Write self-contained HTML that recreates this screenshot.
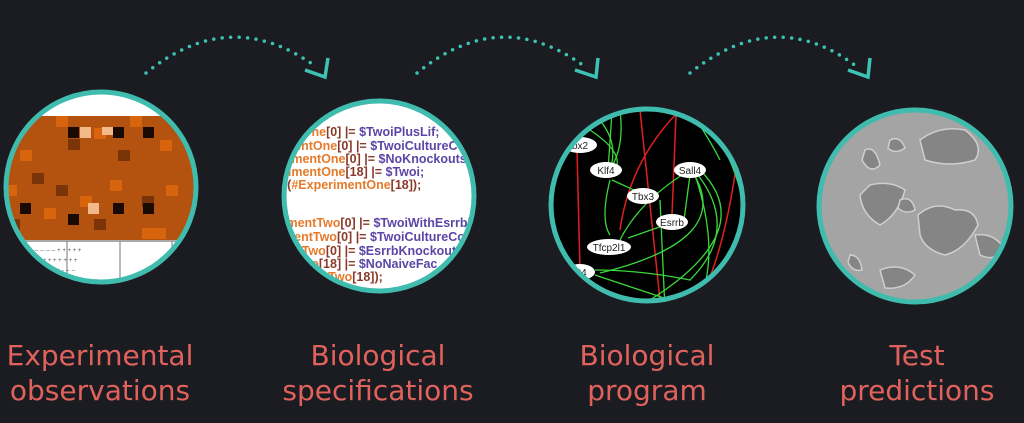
<!DOCTYPE html>
<html><head><meta charset="utf-8"><style>
html,body{margin:0;padding:0;background:#1b1c21;}
svg{display:block}
text{font-family:"Liberation Sans",sans-serif}
.lbl{font-family:"DejaVu Sans","Liberation Sans",sans-serif;font-size:28px;fill:#e0625c;text-anchor:middle}
</style></head><body>
<svg width="1024" height="423" viewBox="0 0 1024 423" xmlns="http://www.w3.org/2000/svg">
<rect width="1024" height="423" fill="#1b1c21"/>
<defs>
<clipPath id="c1"><circle cx="101" cy="187" r="95"/></clipPath>
<clipPath id="c2"><circle cx="379" cy="196" r="95"/></clipPath>
<clipPath id="c3"><circle cx="647" cy="205" r="96"/></clipPath>
<clipPath id="c4"><circle cx="915" cy="206" r="96"/></clipPath>
</defs>
<g fill="none" stroke="#3cc3b3" stroke-width="3.5" stroke-linecap="round">
<path d="M146 73 Q230 5 315 66" stroke-dasharray="0 8.5"/>
<path d="M417 73 Q500 5 584 66" stroke-dasharray="0 8.5"/>
<path d="M690 73 Q775 5 856 66" stroke-dasharray="0 8.5"/>
<polyline points="305,70 325,77 328,58" stroke-linecap="butt" stroke-width="3.5"/>
<polyline points="575,70 596,77 598,58" stroke-linecap="butt" stroke-width="3.5"/>
<polyline points="848,70 868,77 870,58" stroke-linecap="butt" stroke-width="3.5"/>
</g>
<g clip-path="url(#c1)">
<rect x="0" y="90" width="200" height="200" fill="#fff"/>
<rect x="0" y="116" width="200" height="124" fill="#b4520f"/>
<g fill="#d8650e">
<rect x="56" y="116" width="12" height="11"/><rect x="94" y="128" width="12" height="11"/><rect x="130" y="116" width="12" height="11"/><rect x="20" y="150" width="12" height="11"/><rect x="160" y="140" width="12" height="11"/><rect x="110" y="180" width="12" height="11"/><rect x="44" y="208" width="12" height="11"/><rect x="142" y="228" width="24" height="11"/><rect x="80" y="196" width="12" height="11"/><rect x="5" y="185" width="12" height="11"/><rect x="166" y="185" width="12" height="11"/>
</g>
<g fill="#7a3408">
<rect x="68" y="139" width="12" height="11"/><rect x="118" y="150" width="12" height="11"/><rect x="32" y="173" width="12" height="11"/><rect x="142" y="196" width="12" height="11"/><rect x="94" y="219" width="12" height="11"/><rect x="180" y="128" width="12" height="11"/><rect x="8" y="219" width="12" height="11"/><rect x="56" y="185" width="12" height="11"/>
</g>
<g fill="#1a0a02">
<rect x="68" y="127" width="11" height="11"/><rect x="113" y="127" width="11" height="11"/><rect x="20" y="203" width="11" height="11"/><rect x="113" y="203" width="11" height="11"/><rect x="143" y="203" width="11" height="11"/><rect x="68" y="214" width="11" height="11"/><rect x="143" y="127" width="11" height="11"/>
</g>
<g fill="#f3b98a"><rect x="80" y="127" width="11" height="11"/><rect x="88" y="203" width="11" height="11"/><rect x="102" y="127" width="11" height="8"/></g>
<line x1="0" y1="241" x2="200" y2="241" stroke="#555" stroke-width="1"/>
<line x1="67" y1="241" x2="67" y2="290" stroke="#777"/><line x1="120" y1="241" x2="120" y2="290" stroke="#777"/><line x1="172" y1="241" x2="172" y2="290" stroke="#777"/>
<text x="5" y="252" font-size="6" fill="#555">+ + + + +   - -- -- -- --   + + + + +</text>
<text x="5" y="262" font-size="6" fill="#555">-- -- --   + + + + + +   + + + + +</text>
<text x="5" y="272" font-size="6" fill="#555">+ + + + +   + + + + + +   - -- --</text>
</g>
<circle cx="101" cy="187" r="95" fill="none" stroke="#3fbcae" stroke-width="5"/>
<g clip-path="url(#c2)">
<rect x="280" y="95" width="200" height="210" fill="#fff"/>
<g font-size="12.5" font-weight="600" font-family="Liberation Sans,sans-serif">
<text x="283" y="136"><tspan fill="#e57a2a">entOne</tspan><tspan fill="#8a3a2a">[0] |=  </tspan><tspan fill="#5b46a6">$TwoiPlusLif;</tspan></text>
<text x="283" y="150"><tspan fill="#e57a2a">mentOne</tspan><tspan fill="#8a3a2a">[0] |=  </tspan><tspan fill="#5b46a6">$TwoiCultureCo</tspan></text>
<text x="283" y="163"><tspan fill="#e57a2a">rimentOne</tspan><tspan fill="#8a3a2a">[0] |= </tspan><tspan fill="#5b46a6">$NoKnockouts;</tspan></text>
<text x="283" y="176"><tspan fill="#e57a2a">rimentOne</tspan><tspan fill="#8a3a2a">[18] |=  </tspan><tspan fill="#5b46a6">$Twoi;</tspan></text>
<text x="283" y="189"><tspan fill="#8a3a2a">t(</tspan><tspan fill="#e57a2a">#ExperimentOne</tspan><tspan fill="#8a3a2a">[18]);</tspan></text>
<text x="283" y="227"><tspan fill="#e57a2a">imentTwo</tspan><tspan fill="#8a3a2a">[0] |=  </tspan><tspan fill="#5b46a6">$TwoiWithEsrrbKO</tspan></text>
<text x="283" y="241"><tspan fill="#e57a2a">mentTwo</tspan><tspan fill="#8a3a2a">[0] |=  </tspan><tspan fill="#5b46a6">$TwoiCultureCon</tspan></text>
<text x="283" y="255"><tspan fill="#e57a2a">entTwo</tspan><tspan fill="#8a3a2a">[0] |=  </tspan><tspan fill="#5b46a6">$EsrrbKnockout</tspan></text>
<text x="283" y="268"><tspan fill="#e57a2a">ntTwo</tspan><tspan fill="#8a3a2a">[18] |=  </tspan><tspan fill="#5b46a6">$NoNaiveFac</tspan></text>
<text x="283" y="281"><tspan fill="#e57a2a">erimentTwo</tspan><tspan fill="#8a3a2a">[18]);</tspan></text>
</g>
</g>
<circle cx="379" cy="196" r="95" fill="none" stroke="#3fbcae" stroke-width="5"/>
<g clip-path="url(#c3)">
<rect x="545" y="105" width="205" height="205" fill="#000"/>
<g fill="none" stroke="#e02020" stroke-width="1.5">
<path d="M577 150 L580 270"/><path d="M620 230 Q630 160 680 110"/><path d="M676 115 L672 215"/><path d="M737 160 Q725 250 700 300"/><path d="M640 110 L660 300"/>
</g>
<g fill="none" stroke="#3ad83a" stroke-width="1.3">
<path d="M595 115 Q620 140 610 170"/><path d="M620 110 Q625 150 608 172"/><path d="M612 180 L645 195"/><path d="M610 180 Q600 220 610 235"/>
<path d="M690 170 Q640 200 620 240"/><path d="M690 175 L684 220"/><path d="M695 175 Q720 250 700 300"/><path d="M698 175 Q740 230 690 280 Q640 270 595 270"/>
<path d="M693 173 Q735 240 600 273"/><path d="M700 170 Q760 230 650 300"/><path d="M660 200 L665 310"/><path d="M668 224 L628 238"/><path d="M690 110 Q710 140 720 160"/>
<path d="M700 110 Q730 150 740 190"/><path d="M595 275 L670 300"/><path d="M590 130 Q620 150 617 165"/><path d="M612 112 L608 170"/>
</g>
<g font-size="10" text-anchor="middle" fill="#222">
<ellipse cx="580" cy="145" rx="17" ry="8" fill="#fff"/><text x="580" y="149">bx2</text>
<ellipse cx="606" cy="170" rx="16" ry="8" fill="#fff"/><text x="606" y="174">Klf4</text>
<ellipse cx="690" cy="170" rx="16" ry="8" fill="#fff"/><text x="690" y="174">Sall4</text>
<ellipse cx="643" cy="196" rx="16" ry="8" fill="#fff"/><text x="643" y="200">Tbx3</text>
<ellipse cx="672" cy="222" rx="16" ry="8" fill="#fff"/><text x="672" y="226">Esrrb</text>
<ellipse cx="609" cy="247" rx="22" ry="8" fill="#fff"/><text x="609" y="251">Tfcp2l1</text>
<ellipse cx="580" cy="272" rx="15" ry="8" fill="#fff"/><text x="580" y="276">ct4</text>
<ellipse cx="680" cy="300" rx="14" ry="6" fill="#fff"/>
</g>
</g>
<circle cx="647" cy="205" r="96" fill="none" stroke="#3fbcae" stroke-width="5"/>
<g clip-path="url(#c4)">
<rect x="815" y="105" width="205" height="205" fill="#a4a4a4"/>
<g fill="#858585" stroke="#cfcfcf" stroke-width="1.5">
<path d="M920 140 Q940 125 965 130 Q985 145 975 160 Q950 168 925 160 Z"/>
<path d="M870 185 Q890 180 905 190 Q898 215 880 225 Q862 215 860 195 Z"/>
<path d="M918 215 Q935 200 955 210 Q975 208 978 225 Q965 250 945 255 Q925 250 920 235 Z"/>
<path d="M865 150 Q875 145 880 165 Q870 175 862 160 Z"/>
<path d="M890 140 Q900 135 905 148 Q895 155 888 148 Z"/>
<path d="M975 235 Q995 232 1005 250 Q995 262 980 255 Z"/>
<path d="M880 270 Q900 262 915 275 Q905 290 885 288 Z"/>
<path d="M850 255 Q860 255 862 270 Q852 272 848 262 Z"/>
<path d="M900 200 Q912 195 915 210 Q905 215 898 208 Z"/>
</g>
</g>
<circle cx="915" cy="206" r="96" fill="none" stroke="#3fbcae" stroke-width="5"/>
<text class="lbl" x="100" y="365">Experimental</text>
<text class="lbl" x="100" y="400">observations</text>
<text class="lbl" x="378" y="365">Biological</text>
<text class="lbl" x="378" y="400">specifications</text>
<text class="lbl" x="647" y="365">Biological</text>
<text class="lbl" x="647" y="400">program</text>
<text class="lbl" x="917" y="365">Test</text>
<text class="lbl" x="917" y="400">predictions</text>
</svg>
</body></html>
